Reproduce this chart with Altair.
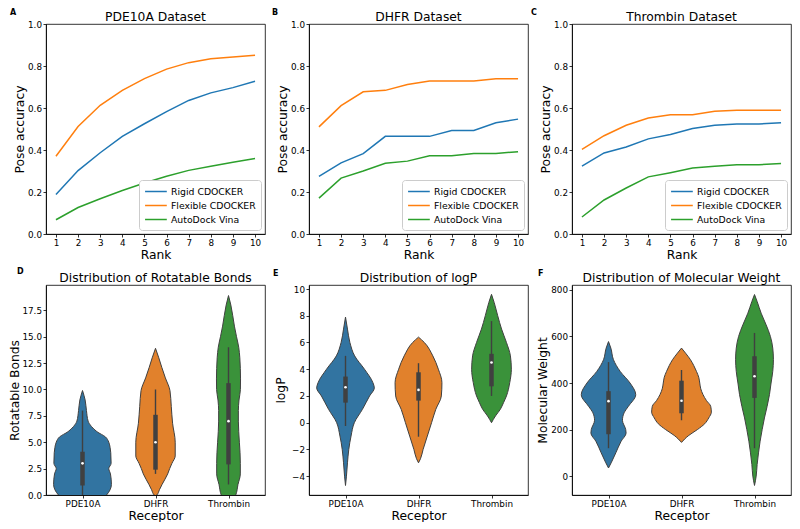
import altair as alt
import pandas as pd

FONT = "DejaVu Sans"

# ---------------- line-chart data (pose accuracy vs rank) ----------------
methods = ["Rigid CDOCKER", "Flexible CDOCKER", "AutoDock Vina"]
method_colors = ["#1f77b4", "#ff7f0e", "#2ca02c"]
ranks = [1, 2, 3, 4, 5, 6, 7, 8, 9, 10]
acc_ticks = [0.0, 0.2, 0.4, 0.6, 0.8, 1.0]

pde_rigid = [0.188, 0.302, 0.387, 0.465, 0.525, 0.583, 0.636, 0.672, 0.697, 0.727]
pde_flex = [0.370, 0.512, 0.613, 0.684, 0.740, 0.785, 0.816, 0.834, 0.843, 0.851]
pde_vina = [0.068, 0.126, 0.168, 0.207, 0.243, 0.275, 0.303, 0.323, 0.342, 0.359]

dhfr_rigid = [0.274, 0.339, 0.383, 0.465, 0.465, 0.465, 0.493, 0.493, 0.530, 0.547]
dhfr_flex = [0.510, 0.611, 0.677, 0.684, 0.712, 0.729, 0.729, 0.729, 0.739, 0.739]
dhfr_vina = [0.171, 0.266, 0.300, 0.337, 0.347, 0.373, 0.373, 0.383, 0.383, 0.392]

thr_rigid = [0.323, 0.386, 0.414, 0.453, 0.474, 0.502, 0.518, 0.524, 0.524, 0.530]
thr_flex = [0.403, 0.468, 0.518, 0.552, 0.568, 0.568, 0.585, 0.589, 0.589, 0.589]
thr_vina = [0.081, 0.162, 0.219, 0.272, 0.292, 0.314, 0.323, 0.330, 0.330, 0.336]

# ---------------- violin data ----------------
receptors = ["PDE10A", "DHFR", "Thrombin"]
receptor_pos = [0, 1, 2]
violin_colors = ["#3274a1", "#e1812c", "#3a923a"]

# Rotatable bonds: value grid and half-width of each violin (x-axis units)
rb_pde_v = [-1.4, -1.0, -0.5, 0.0, 0.5, 1.0, 2.0, 2.5, 3.0, 4.0, 4.5, 5.0, 5.5, 6.0, 6.5, 7.0, 8.0, 9.0, 9.9]
rb_pde_w = [0, 0.135, 0.248, 0.329, 0.378, 0.396, 0.383, 0.36, 0.392, 0.387, 0.378, 0.36, 0.315, 0.198, 0.122, 0.077, 0.054, 0.036, 0]
rb_dhfr_v = [-0.1, 0.0, 0.5, 1.0, 2.0, 2.5, 3.0, 3.7, 5.0, 6.8, 8.4, 9.9, 11.1, 12.1, 13.0, 13.9]
rb_dhfr_w = [0, 0.018, 0.054, 0.09, 0.167, 0.194, 0.225, 0.27, 0.27, 0.234, 0.216, 0.198, 0.135, 0.086, 0.045, 0]
rb_thr_v = [-1.0, -0.5, 0, 1, 2, 3, 4, 5, 6, 7, 8, 9, 10, 11, 12, 13, 14, 15, 16, 17, 18, 18.9]
rb_thr_w = [0, 0.054, 0.099, 0.13, 0.162, 0.162, 0.158, 0.149, 0.14, 0.135, 0.135, 0.144, 0.163, 0.165, 0.162, 0.155, 0.14, 0.11, 0.081, 0.058, 0.032, 0]

# logP
lp_pde_v = [-4.7, -4, -3, -2, -1, 0, 1, 2, 2.6, 3, 4, 5, 6, 7, 7.9]
lp_pde_w = [0, 0.013, 0.027, 0.045, 0.076, 0.121, 0.232, 0.33, 0.395, 0.375, 0.26, 0.125, 0.06, 0.027, 0]
lp_dhfr_v = [-3.0, -2.7, -2, -1, 0, 1, 2, 3, 4, 5, 6, 6.4]
lp_dhfr_w = [0, 0.027, 0.063, 0.121, 0.179, 0.237, 0.313, 0.321, 0.272, 0.196, 0.08, 0]
lp_thr_v = [0.0, 0.5, 1, 1.5, 2, 3, 4, 5, 6, 7, 8, 9, 9.6]
lp_thr_w = [0, 0.054, 0.121, 0.165, 0.205, 0.25, 0.272, 0.259, 0.205, 0.138, 0.085, 0.036, 0]

# Molecular weight
mw_pde_v = [35, 60, 100, 150, 185, 200, 240, 275, 300, 350, 400, 450, 500, 550, 578]
mw_pde_w = [0, 0.041, 0.1, 0.173, 0.241, 0.236, 0.191, 0.218, 0.273, 0.373, 0.295, 0.16, 0.068, 0.032, 0]
mw_dhfr_v = [145, 160, 175, 200, 225, 250, 275, 300, 325, 350, 375, 400, 425, 450, 475, 500, 525, 550]
mw_dhfr_w = [0, 0.045, 0.1, 0.218, 0.318, 0.373, 0.409, 0.4, 0.341, 0.295, 0.264, 0.25, 0.236, 0.205, 0.168, 0.123, 0.064, 0]
mw_thr_v = [-40, 0, 50, 100, 150, 200, 250, 300, 350, 400, 450, 500, 550, 600, 650, 700, 750, 780]
mw_thr_w = [0, 0.023, 0.036, 0.055, 0.077, 0.105, 0.136, 0.173, 0.205, 0.227, 0.25, 0.259, 0.25, 0.218, 0.159, 0.091, 0.036, 0]

# box-plot statistics per receptor: q1, q3, median, whisker low, whisker high
rb_q1 = [0.9, 2.4, 2.9]
rb_q3 = [4.1, 7.6, 10.6]
rb_med = [3.0, 5.0, 7.0]
rb_lo = [0.0, 2.0, 1.0]
rb_hi = [8.0, 10.0, 14.0]

lp_q1 = [1.5, 1.65, 2.72]
lp_q3 = [3.45, 3.77, 5.15]
lp_med = [2.65, 2.45, 4.5]
lp_lo = [-0.25, -1.05, 2.0]
lp_hi = [5.0, 4.45, 7.6]

mw_q1 = [180, 270, 336]
mw_q3 = [365, 410, 515]
mw_med = [322, 324, 429]
mw_lo = [120, 240, 120]
mw_hi = [490, 456, 615]

rb_ticks = [0.0, 2.5, 5.0, 7.5, 10.0, 12.5, 15.0, 17.5]
lp_ticks = [-4, -2, 0, 2, 4, 6, 8, 10]
mw_ticks = [0, 200, 400, 600, 800]

# ---------------- layout ----------------
W = 219
H = 210
EDGE = "#404040"
TFS = 12.3   # title font size
LFS = 8.8    # tick label font size


def letter_layer(letter, dx, dy):
    return alt.Chart(pd.DataFrame({"t": [letter]})).mark_text(
        font=FONT, fontSize=8, fontWeight="bold", align="left", baseline="top", color="black"
    ).encode(x=alt.value(dx), y=alt.value(dy), text="t:N")


def panel_title(text, off):
    return alt.Title(text, anchor="middle", frame="group", font=FONT, fontSize=TFS,
                     fontWeight="normal", color="black", offset=off)


def line_panel(title, letter, dx, dy, series):
    rows = []
    for name, vals in zip(methods, series):
        for r, a in zip(ranks, vals):
            rows.append({"rank": r, "method": name, "acc": a})
    df = pd.DataFrame(rows)
    lines = alt.Chart(df).mark_line(strokeWidth=1.5).encode(
        x=alt.X("rank:Q", scale=alt.Scale(domain=[0.55, 10.45], nice=False, zero=False),
                axis=alt.Axis(values=ranks, format="d", title="Rank")),
        y=alt.Y("acc:Q", scale=alt.Scale(domain=[0, 1], nice=False),
                axis=alt.Axis(values=acc_ticks, format=".1f", title="Pose accuracy",
                              titlePadding=1)),
        color=alt.Color("method:N", scale=alt.Scale(domain=methods, range=method_colors),
                        legend=alt.Legend(title=None, orient="bottom-right", offset=4,
                                          fillColor="white", strokeColor="#cccccc",
                                          cornerRadius=3, padding=5,
                                          symbolType="M-1,0L3,0", symbolSize=118,
                                          symbolStrokeWidth=1.5, labelFontSize=9.3,
                                          labelFont=FONT, labelColor="black",
                                          labelOffset=14, rowPadding=2, labelLimit=300)),
    )
    return alt.layer(lines, letter_layer(letter, dx, dy)).properties(
        width=W, height=H, title=panel_title(title, 1 + dy))


def violin_panel(title, ytitle, letter, dx, dy, profiles, stats, ydomain, yticks, yfmt, tpad):
    prow = []
    for rec, pos, (vs, ws) in zip(receptors, receptor_pos, profiles):
        for v, w in zip(vs, ws):
            prow.append({"receptor": rec, "pos": pos, "v": v, "hw": w})
    pdf = pd.DataFrame(prow)
    q1, q3, med, lo, hi = stats
    sdf = pd.DataFrame({"receptor": receptors, "pos": receptor_pos, "q1": q1, "q3": q3,
                        "med": med, "lo": lo, "hi": hi})
    label_expr = "[" + ",".join("'%s'" % r for r in receptors) + "][datum.value]"
    xscale = alt.Scale(domain=[-0.5, 2.5], nice=False, zero=False)
    yscale = alt.Scale(domain=ydomain, nice=False, zero=False)
    xaxis = alt.Axis(values=receptor_pos, labelExpr=label_expr, title="Receptor")
    yaxis = alt.Axis(values=yticks, format=yfmt, title=ytitle, titlePadding=tpad)

    area = alt.Chart(pdf).transform_calculate(
        xl="datum.pos - datum.hw", xr="datum.pos + datum.hw"
    ).mark_area(orient="horizontal", interpolate="monotone", stroke=EDGE, strokeWidth=1,
                clip=True, opacity=1).encode(
        y=alt.Y("v:Q", scale=yscale, axis=yaxis),
        x=alt.X("xl:Q", scale=xscale, axis=xaxis),
        x2="xr:Q",
        fill=alt.Fill("receptor:N", scale=alt.Scale(domain=receptors, range=violin_colors),
                      legend=None),
    )
    base = alt.Chart(sdf)
    whisk = base.mark_rule(color=EDGE, strokeWidth=1.4, clip=True).encode(
        x=alt.X("pos:Q", scale=xscale, axis=xaxis),
        y=alt.Y("lo:Q", scale=yscale, axis=yaxis), y2="hi:Q")
    box = base.mark_rule(color=EDGE, strokeWidth=4.5, clip=True).encode(
        x=alt.X("pos:Q", scale=xscale, axis=xaxis),
        y=alt.Y("q1:Q", scale=yscale, axis=yaxis), y2="q3:Q")
    mid = base.mark_point(filled=True, color="white", size=7, opacity=1).encode(
        x=alt.X("pos:Q", scale=xscale, axis=xaxis),
        y=alt.Y("med:Q", scale=yscale, axis=yaxis))
    return alt.layer(area, whisk, box, mid, letter_layer(letter, dx, dy)).properties(
        width=W, height=H, title=panel_title(title, 1 + dy))


pA = line_panel("PDE10A Dataset", "A", -36, -15, [pde_rigid, pde_flex, pde_vina])
pB = line_panel("DHFR Dataset", "B", -37, -15, [dhfr_rigid, dhfr_flex, dhfr_vina])
pC = line_panel("Thrombin Dataset", "C", -41, -15, [thr_rigid, thr_flex, thr_vina])

pD = violin_panel("Distribution of Rotatable Bonds", "Rotatable Bonds", "D", -29, -17,
                  [(rb_pde_v, rb_pde_w), (rb_dhfr_v, rb_dhfr_w), (rb_thr_v, rb_thr_w)],
                  [rb_q1, rb_q3, rb_med, rb_lo, rb_hi], [0, 19.9], rb_ticks, ".1f", 0.5)
pE = violin_panel("Distribution of logP", "logP", "E", -36, -15,
                  [(lp_pde_v, lp_pde_w), (lp_dhfr_v, lp_dhfr_w), (lp_thr_v, lp_thr_w)],
                  [lp_q1, lp_q3, lp_med, lp_lo, lp_hi], [-5.41, 10.3], lp_ticks, "d", 4)
pF = violin_panel("Distribution of Molecular Weight", "Molecular Weight", "F", -34, -15,
                  [(mw_pde_v, mw_pde_w), (mw_dhfr_v, mw_dhfr_w), (mw_thr_v, mw_thr_w)],
                  [mw_q1, mw_q3, mw_med, mw_lo, mw_hi], [-81, 821], mw_ticks, "d", 1.5)

chart = alt.concat(
    pA, pB, pC, pD, pE, pF, columns=3, bounds="flush",
    spacing=alt.RowColnumber(row=51, column=44)
).resolve_scale(
    color="independent", fill="independent"
).resolve_legend(
    color="independent"
).properties(
    padding={"left": 0, "top": 0, "right": 0, "bottom": 0}, background="white"
).configure_axis(
    labelFont=FONT, labelFontSize=LFS, titleFont=FONT, titleFontSize=TFS,
    titleFontWeight="normal", labelColor="black", titleColor="black",
    tickColor="black", domainColor="black", tickSize=3, tickWidth=0.8,
    domainWidth=0.8, labelPadding=1.5, titlePadding=1, grid=False
).configure_view(
    stroke="black", strokeWidth=0.8
)

chart.save("out.html", embed_options={"renderer": "svg", "actions": False})
